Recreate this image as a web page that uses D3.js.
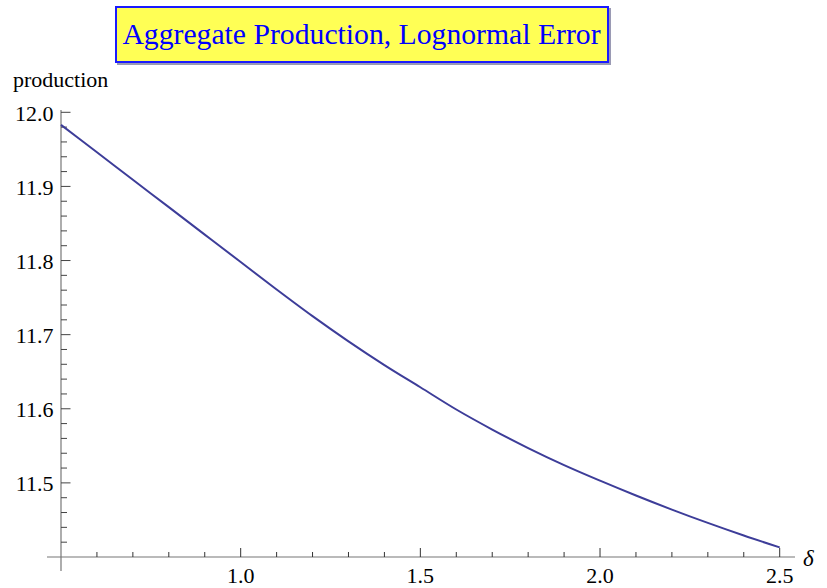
<!DOCTYPE html>
<html>
<head>
<meta charset="utf-8">
<script src="https://cdn.jsdelivr.net/npm/d3@7"></script>
<style>
  html, body { margin: 0; padding: 0; background: #fff; }
  svg { display: block; }
</style>
</head>
<body>
<script>
// ---- data ----
const deltaValues = [0.5, 0.6, 0.7, 0.8, 0.9, 1.0, 1.1, 1.2, 1.3, 1.4, 1.5, 1.6, 1.7, 1.8, 1.9, 2.0, 2.1, 2.2, 2.3, 2.4, 2.5];
const productionValues = [11.983, 11.946, 11.909, 11.872, 11.835, 11.798, 11.761, 11.725, 11.691, 11.659, 11.629, 11.599, 11.572, 11.547, 11.524, 11.503, 11.483, 11.464, 11.446, 11.429, 11.413];
const xMajorTicks = [1.0, 1.5, 2.0, 2.5];
const yMajorTicks = [11.5, 11.6, 11.7, 11.8, 11.9, 12.0];
const titleText = "Aggregate Production, Lognormal Error";
const yLabel = "production";
const xLabel = "δ";

const FONT = "Liberation Serif";
const W = 827, H = 588;
const svg = d3.select("body").append("svg").attr("width", W).attr("height", H);

const x = d3.scaleLinear().domain([0.5, 2.5]).range([61, 779.7]);
const y = d3.scaleLinear().domain([11.4, 12.0]).range([557, 112.3]);

const xMinor = d3.range(6, 25).map(d => d / 10).filter(v => !xMajorTicks.some(m => Math.abs(m - v) < 1e-9));
const yMinor = d3.range(0, 30).map(i => 11.42 + i * 0.02).filter(v => v < 12.001 && !yMajorTicks.some(m => Math.abs(m - v) < 1e-9));

const axisG = svg.append("g");
axisG.append("line").attr("x1", 47).attr("x2", 795).attr("y1", y(11.4)).attr("y2", y(11.4))
  .attr("stroke", "#777").attr("stroke-width", 1.2);
axisG.append("line").attr("x1", x(0.5)).attr("x2", x(0.5)).attr("y1", 110).attr("y2", 571)
  .attr("stroke", "#777").attr("stroke-width", 1.2);

axisG.selectAll(".xmaj").data(xMajorTicks).join("line")
  .attr("x1", d => x(d)).attr("x2", d => x(d)).attr("y1", y(11.4)).attr("y2", y(11.4) - 9)
  .attr("stroke", "#333").attr("stroke-width", 1);
axisG.selectAll(".xmin").data(xMinor).join("line")
  .attr("x1", d => x(d)).attr("x2", d => x(d)).attr("y1", y(11.4)).attr("y2", y(11.4) - 5)
  .attr("stroke", "#333").attr("stroke-width", 1);
axisG.selectAll(".ymaj").data(yMajorTicks).join("line")
  .attr("x1", x(0.5)).attr("x2", x(0.5) + 9.5).attr("y1", d => y(d)).attr("y2", d => y(d))
  .attr("stroke", "#444").attr("stroke-width", 1);
axisG.selectAll(".ymin").data(yMinor).join("line")
  .attr("x1", x(0.5)).attr("x2", x(0.5) + 6).attr("y1", d => y(d)).attr("y2", d => y(d))
  .attr("stroke", "#444").attr("stroke-width", 1);

svg.selectAll(".xl").data(xMajorTicks).join("text")
  .attr("x", d => x(d)).attr("y", 583).attr("text-anchor", "middle")
  .style("font-family", FONT).attr("font-size", 22).attr("fill", "#000").text(d => d3.format(".1f")(d));
svg.selectAll(".yl").data(yMajorTicks).join("text")
  .attr("x", 53.5).attr("y", d => y(d) + 8.5).attr("text-anchor", "end")
  .style("font-family", FONT).attr("font-size", 22).attr("fill", "#000").text(d => d3.format(".1f")(d));

svg.append("text").attr("x", 13).attr("y", 87).style("font-family", FONT).attr("font-size", 22)
  .attr("fill", "#000").text(yLabel);
svg.append("text").attr("x", 803).attr("y", 566).style("font-family", FONT).attr("font-size", 23)
  .attr("font-style", "italic").attr("fill", "#000").text(xLabel);

const line = d3.line().x((d, i) => x(deltaValues[i])).y(d => y(d)).curve(d3.curveMonotoneX);
svg.append("path").datum(productionValues).attr("d", line)
  .attr("fill", "none").attr("stroke", "#3d3d99").attr("stroke-width", 2);

svg.append("rect").attr("x", 117).attr("y", 8).attr("width", 494).attr("height", 57).attr("fill", "#9a9ab4");
svg.append("rect").attr("x", 116).attr("y", 7).attr("width", 492).attr("height", 55)
  .attr("fill", "#ffff55").attr("stroke", "#1a1aff").attr("stroke-width", 2);
svg.append("text").attr("x", 361.5).attr("y", 43.5).attr("text-anchor", "middle")
  .style("font-family", FONT).attr("font-size", 29.7).attr("fill", "#0000ff").text(titleText);
</script>
</body>
</html>
